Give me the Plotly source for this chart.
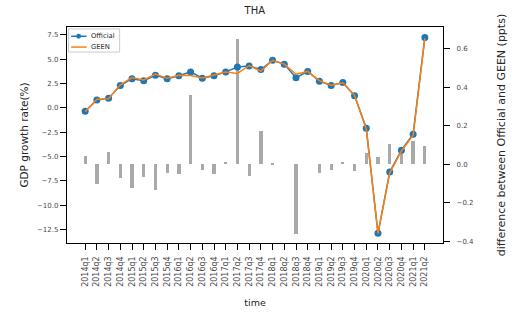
import plotly.graph_objects as go

quarters = [
    "2014q1", "2014q2", "2014q3", "2014q4",
    "2015q1", "2015q2", "2015q3", "2015q4",
    "2016q1", "2016q2", "2016q3", "2016q4",
    "2017q1", "2017q2", "2017q3", "2017q4",
    "2018q1", "2018q2", "2018q3", "2018q4",
    "2019q1", "2019q2", "2019q3", "2019q4",
    "2020q1", "2020q2", "2020q3", "2020q4",
    "2021q1", "2021q2",
]

# Official GDP growth (%), year on year
official = [
    -0.35, 0.8, 1.0, 2.3,
    3.0, 2.8, 3.35, 3.0,
    3.3, 3.7, 3.05, 3.3,
    3.7, 4.2, 4.3, 3.95,
    4.9, 4.5, 3.1, 3.75,
    2.75, 2.3, 2.6, 1.25,
    -2.1, -12.9, -6.6, -4.35,
    -2.7, 7.25,
]

# GEEN nowcast (%)
geen = [
    -0.39, 0.9, 0.94, 2.37,
    3.12, 2.87, 3.48, 3.04,
    3.35, 3.34, 3.08, 3.35,
    3.69, 3.55, 4.36, 3.78,
    4.9, 4.5, 3.46, 3.75,
    2.8, 2.33, 2.59, 1.29,
    -2.16, -12.94, -6.71, -4.43,
    -2.82, 7.16,
]

# Official minus GEEN (percentage points)
difference = [
    0.043, -0.10, 0.062, -0.069,
    -0.12, -0.067, -0.131, -0.043,
    -0.048, 0.36, -0.028, -0.052,
    0.012, 0.65, -0.06, 0.173,
    0.004, 0.0, -0.363, 0.0,
    -0.047, -0.029, 0.012, -0.035,
    0.057, 0.04, 0.107, 0.078,
    0.12, 0.093,
]

font_family = "DejaVu Sans"
ink = "#262626"
tick_ink = "#4a4a4a"
blue = "#1f77b4"
orange = "#ff7f0e"

fig = go.Figure()

fig.add_trace(go.Bar(
    x=quarters, y=difference, yaxis="y", xaxis="x",
    width=0.28, marker=dict(color="#a9a9a9", line=dict(width=0)),
    showlegend=False,
))

fig.add_trace(go.Scatter(
    x=quarters, y=official, yaxis="y2", xaxis="x",
    mode="lines+markers", name="Official",
    line=dict(color=blue, width=1.5),
    marker=dict(color=blue, size=7),
    showlegend=False,
))

fig.add_trace(go.Scatter(
    x=quarters, y=geen, yaxis="y2", xaxis="x",
    mode="lines", name="GEEN",
    line=dict(color=orange, width=1.5),
    showlegend=False,
))

axis_common = dict(
    showgrid=False, zeroline=False,
    showline=True, linecolor="black", linewidth=1.3,
    ticks="outside", ticklen=6, tickwidth=1.1, tickcolor="black",
    tickfont=dict(family=font_family, size=7, color=tick_ink),
)

# compact legend box in the upper-left corner of the plotting area
legend_shapes = [
    dict(type="rect", xref="paper", yref="paper", x0=0.004, x1=0.140, y0=0.884, y1=0.991,
         line=dict(color="#cccccc", width=1), fillcolor="rgba(255,255,255,0.8)", layer="above"),
    dict(type="line", xref="paper", yref="paper", x0=0.011, x1=0.052, y0=0.957, y1=0.957,
         line=dict(color=blue, width=1.5), layer="above"),
    dict(type="circle", xref="paper", yref="paper", x0=0.0245, x1=0.0375, y0=0.9455, y1=0.9685,
         line=dict(color=blue, width=0), fillcolor=blue, layer="above"),
    dict(type="line", xref="paper", yref="paper", x0=0.011, x1=0.052, y0=0.907, y1=0.907,
         line=dict(color=orange, width=1.5), layer="above"),
]
legend_labels = [
    dict(text="Official", xref="paper", yref="paper", x=0.059, y=0.957, xanchor="left",
         yanchor="middle", showarrow=False, font=dict(family=font_family, size=6.8, color=ink)),
    dict(text="GEEN", xref="paper", yref="paper", x=0.059, y=0.907, xanchor="left",
         yanchor="middle", showarrow=False, font=dict(family=font_family, size=6.8, color=ink)),
]

fig.update_layout(
    width=518, height=320,
    margin=dict(l=67, r=75, t=27, b=77),
    paper_bgcolor="white", plot_bgcolor="white",
    font=dict(family=font_family, color=ink),
    bargap=0,
    showlegend=False,
    shapes=legend_shapes,
    annotations=legend_labels,
    title=dict(text="THA", x=0.492, xanchor="center", y=0.967, yanchor="middle",
               font=dict(family=font_family, size=10, color=ink)),
    xaxis=dict(
        **axis_common,
        type="category", range=[-1.55, 30.55], mirror=True,
        tickangle=-90, ticklabelstandoff=3,
        title=dict(text="time", font=dict(family=font_family, size=9.5, color=ink), standoff=13),
    ),
    yaxis=dict(
        **axis_common,
        side="right", range=[-0.408, 0.713], ticklabelstandoff=5,
        tickvals=[-0.4, -0.2, 0.0, 0.2, 0.4, 0.6],
        ticktext=["\u22120.4", "\u22120.2", "0.0", "0.2", "0.4", "0.6"],
        title=dict(text="difference between Official and GEEN (ppts)",
                   font=dict(family=font_family, size=11, color=ink), standoff=24),
    ),
    yaxis2=dict(
        **axis_common,
        side="left", overlaying="y", range=[-13.9, 8.32],
        tickvals=[-12.5, -10, -7.5, -5, -2.5, 0, 2.5, 5, 7.5],
        ticktext=["\u221212.5", "\u221210.0", "\u22127.5", "\u22125.0", "\u22122.5",
                  "0.0", "2.5", "5.0", "7.5"],
        title=dict(text="GDP growth rate(%)",
                   font=dict(family=font_family, size=10.5, color=ink), standoff=6),
    ),
)
fig.update_xaxes(tickfont=dict(family=font_family, size=8, color=tick_ink))

fig.write_html("out.html")
